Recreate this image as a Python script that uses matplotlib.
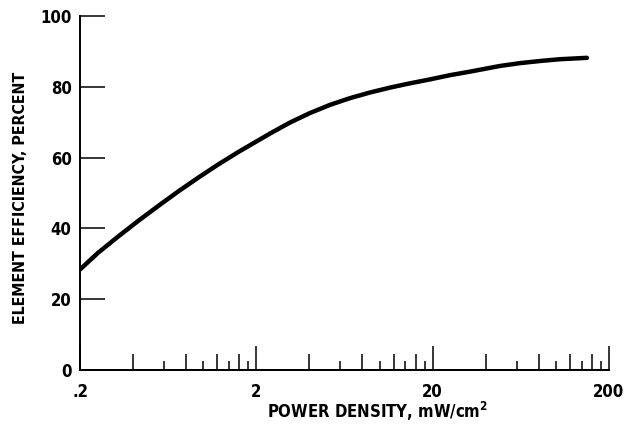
import matplotlib
matplotlib.use('Agg')
import matplotlib.pyplot as plt

# curve
power_density = [0.2, 0.253, 0.329, 0.427, 0.554, 0.719, 0.934, 1.21, 1.57, 2.04, 2.39, 3.10,
                 4.03, 5.23, 6.79, 8.82, 11.5, 14.9, 19.3, 25.1, 32.6, 48.2, 62.6, 81.3, 105, 150]
efficiency = [28.4, 33.1, 37.7, 42.1, 46.3, 50.4, 54.3, 58.0, 61.5, 64.8, 66.8, 69.9,
              72.6, 74.9, 76.8, 78.4, 79.8, 81.0, 82.1, 83.3, 84.3, 85.9, 86.7, 87.3, 87.8, 88.2]

# axis ticks
x_major = [0.2, 2, 20, 200]
x_major_labels = ['.2', '2', '20', '200']
x_long = [0.4, 0.8, 1.2, 1.6, 4, 8, 12, 16, 40, 80, 120, 160]
x_short = [0.6, 1.0, 1.4, 1.8, 6, 10, 14, 18, 60, 100, 140, 180]
y_ticks = [0, 20, 40, 60, 80, 100]

plt.rcParams['font.family'] = ['DejaVu Sans']
plt.rcParams['font.stretch'] = 'condensed'
plt.rcParams['font.weight'] = 'bold'
plt.rcParams['axes.labelweight'] = 'bold'

fig = plt.figure(figsize=(6.26, 4.28), dpi=100)
ax = fig.add_axes([0.1278, 0.1355, 0.845, 0.827])

ax.plot(power_density, efficiency, color='black', linewidth=3.2, solid_capstyle='round')

ax.set_xscale('log')
ax.set_xlim(0.2, 200)
ax.set_ylim(0, 100)

ax.spines['top'].set_visible(False)
ax.spines['right'].set_visible(False)
ax.spines['left'].set_linewidth(1.4)
ax.spines['bottom'].set_linewidth(1.4)

ax.set_xticks(x_major)
ax.set_xticklabels(x_major_labels)
ax.set_xticks(x_long, minor=True)
ax.xaxis.set_minor_formatter(matplotlib.ticker.NullFormatter())
ax.tick_params(axis='x', which='major', direction='in', length=17, width=1.1, pad=9, labelsize=12)
ax.tick_params(axis='x', which='minor', direction='in', length=11.5, width=1.1)

# third set of shorter ticks
sec = ax.secondary_xaxis('bottom')
sec.set_xticks(x_short)
sec.xaxis.set_major_formatter(matplotlib.ticker.NullFormatter())
sec.xaxis.set_minor_locator(matplotlib.ticker.NullLocator())
sec.tick_params(axis='x', which='major', direction='in', length=6.5, width=1.1)
sec.spines['bottom'].set_linewidth(1.4)

ax.set_yticks(y_ticks)
ax.tick_params(axis='y', direction='in', length=18, width=1.1, pad=6, labelsize=12)

ax.set_xlabel('POWER DENSITY, mW/cm$^2$', fontsize=12)
ax.xaxis.set_label_coords(0.563, -0.085)
ax.set_ylabel('ELEMENT EFFICIENCY, PERCENT', fontsize=11.4)
ax.yaxis.set_label_coords(-0.098, 0.486)

plt.savefig('out.png', dpi=100)
